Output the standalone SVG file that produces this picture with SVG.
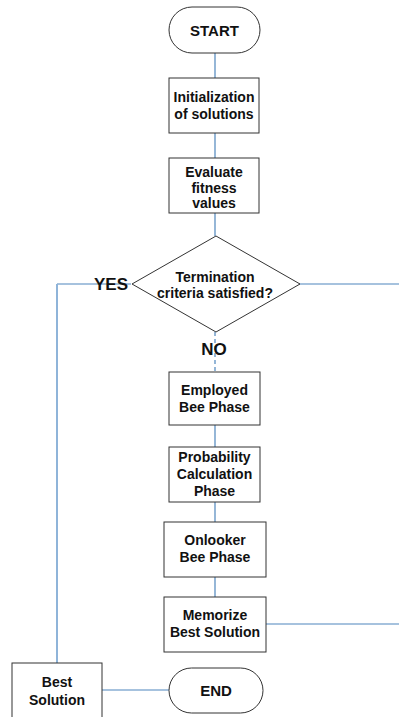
<svg xmlns="http://www.w3.org/2000/svg" width="399" height="717" viewBox="0 0 399 717">
<style>
.box{fill:#fff;stroke:#333;stroke-width:1}
.t{font-family:"Liberation Sans",Arial,sans-serif;font-weight:bold;font-size:14px;fill:#111;text-anchor:middle}
.big{font-size:15px}
.lbl{font-size:17px}
.c{fill:none;stroke:#4f86bd;stroke-width:1.2}
.cl{fill:none;stroke:#8fb4d9;stroke-width:2}
</style>
<rect width="399" height="717" fill="#fff"/>
<g id="connectors">
<line class="c" x1="215" y1="53" x2="215" y2="78"/>
<line class="c" x1="215" y1="133" x2="215" y2="158"/>
<line class="c" x1="215" y1="213" x2="215" y2="236"/>
<line class="c" x1="215" y1="332" x2="215" y2="372" stroke-dasharray="4,3"/>
<line class="c" x1="215" y1="425" x2="215" y2="447"/>
<line class="c" x1="215" y1="502" x2="215" y2="522"/>
<line class="c" x1="215" y1="577" x2="215" y2="597"/>
<line class="c" x1="298" y1="284" x2="399" y2="284"/>
<line class="c" x1="266" y1="624" x2="399" y2="624"/>
<line class="c" x1="131" y1="284" x2="57" y2="284"/>
<line class="cl" x1="57" y1="284" x2="57" y2="663"/>
<line class="c" x1="102" y1="690" x2="169" y2="690"/>
</g>
<g id="start">
<rect class="box" x="169" y="7" width="91" height="46" rx="23"/>
<text class="t big" x="214.5" y="35.5">START</text>
</g>
<g id="init">
<rect class="box" x="169" y="78" width="90" height="55"/>
<text class="t" x="214" y="102">Initialization</text>
<text class="t" x="214" y="119">of solutions</text>
</g>
<g id="evaluate">
<rect class="box" x="169" y="158" width="90" height="55"/>
<text class="t" x="214" y="177">Evaluate</text>
<text class="t" x="214" y="193">fitness</text>
<text class="t" x="214" y="208">values</text>
</g>
<g id="decision">
<polygon class="box" points="216,236 300,284 216,332 132,284"/>
<text class="t" x="215" y="282">Termination</text>
<text class="t" x="215" y="298">criteria satisfied?</text>
</g>
<text class="t lbl" x="111" y="290">YES</text>
<text class="t lbl" x="214" y="355">NO</text>
<g id="employed">
<rect class="box" x="169" y="372" width="91" height="53"/>
<text class="t" x="214.5" y="395">Employed</text>
<text class="t" x="214.5" y="412">Bee Phase</text>
</g>
<g id="probability">
<rect class="box" x="169" y="447" width="91" height="55"/>
<text class="t" x="214.5" y="462">Probability</text>
<text class="t" x="214.5" y="479">Calculation</text>
<text class="t" x="214.5" y="496">Phase</text>
</g>
<g id="onlooker">
<rect class="box" x="164" y="522" width="102" height="55"/>
<text class="t" x="215" y="545">Onlooker</text>
<text class="t" x="215" y="562">Bee Phase</text>
</g>
<g id="memorize">
<rect class="box" x="164" y="597" width="102" height="55"/>
<text class="t" x="215" y="620">Memorize</text>
<text class="t" x="215" y="637">Best Solution</text>
</g>
<g id="best">
<rect class="box" x="12" y="663" width="90" height="60"/>
<text class="t" x="57" y="687">Best</text>
<text class="t" x="57" y="705">Solution</text>
</g>
<g id="end">
<rect class="box" x="169" y="668" width="94" height="45" rx="22.5"/>
<text class="t big" x="216" y="696">END</text>
</g>
</svg>
